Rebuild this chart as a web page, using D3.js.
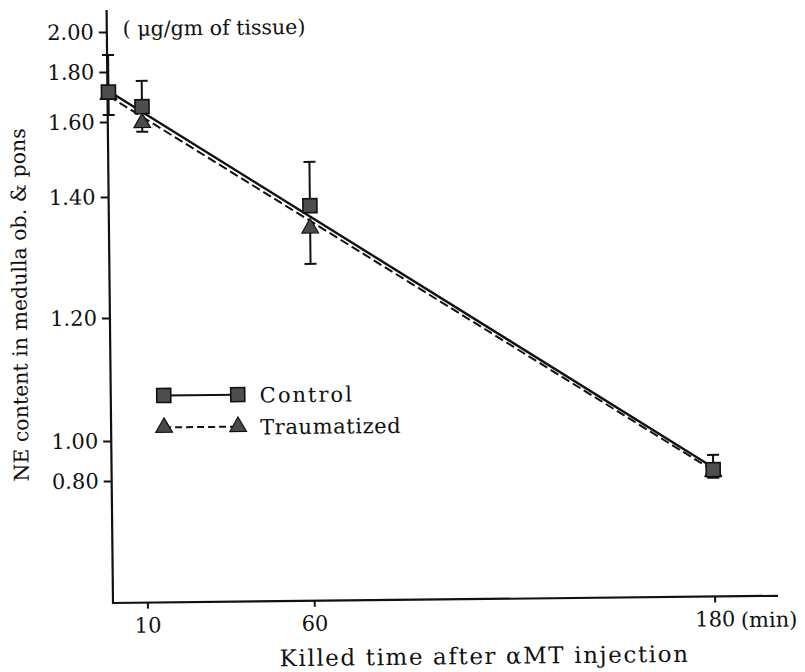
<!DOCTYPE html>
<html>
<head>
<meta charset="utf-8">
<script src="https://cdn.jsdelivr.net/npm/d3@7"></script>
<style>
  html, body { margin: 0; background: #fff; }
  svg text { font-family: "DejaVu Serif", serif; fill: #111; }
</style>
</head>
<body>
<svg id="chart" width="805" height="672"></svg>
<script>
// NE content in medulla ob. & pons after aMT injection — redrawn with D3 v7

// ── Data ────────────────────────────────────────────────────────────────
const times      = [0, 10, 60, 180];
const controlNE  = [1.72, 1.66, 1.382, 0.824];
const controlHi  = [1.885, 1.763, 1.488, 0.898];   // upper error bar
const traumaNE   = [1.71, 1.597, 1.345, 0.815];
const traumaLo   = [1.628, 1.573, 1.286, 0.7835];  // lower error bar
// fitted lines: value at t=0 and t=180
const fitTimes   = [0, 180];
const controlFit = [1.724, 0.835];
const traumaFit  = [1.704, 0.82];
const yTicks     = [0.80, 1.00, 1.20, 1.40, 1.60, 1.80, 2.00];
const xTicks     = [10, 60, 180];

// ── Layout ──────────────────────────────────────────────────────────────
// the printed axis is unevenly ruled, so the y scale is piecewise
const yTickPos = [481, 441, 318, 197, 122, 72, 32];
const X0 = 113, Y0 = 603;           // axis corner
const X1 = 778, YTOP = 10;          // axis ends
const TILT = -0.62;                 // the scan is slightly rotated

const svg = d3.select('#chart');
const g = svg.append('g').attr('transform', `rotate(${TILT},${X0},${Y0})`);

const x = d3.scaleLinear().domain([0, 199]).range([114, X1]);
const y = d3.scaleLinear().domain(yTicks).range(yTickPos);

// ── Axes ────────────────────────────────────────────────────────────────
g.append('line')
  .attr('x1', X0).attr('x2', X0).attr('y1', Y0 + 1).attr('y2', YTOP)
  .attr('stroke', '#111').attr('stroke-width', 2.2);
g.append('line')
  .attr('x1', X0 - 1).attr('x2', X1).attr('y1', Y0).attr('y2', Y0)
  .attr('stroke', '#111').attr('stroke-width', 2.2);

const yAxis = g.append('g')
  .attr('transform', `translate(${X0},0)`)
  .call(d3.axisLeft(y).tickValues(yTicks).tickFormat(d3.format('.2f'))
    .tickSize(8).tickPadding(5));
yAxis.select('.domain').remove();
yAxis.selectAll('line').attr('stroke', '#111').attr('stroke-width', 2);
yAxis.selectAll('text').attr('font-size', 21).attr('font-family', null);

const xAxis = g.append('g')
  .attr('transform', `translate(0,${Y0})`)
  .call(d3.axisBottom(x).tickValues(xTicks).tickFormat(d3.format('d'))
    .tickSize(6).tickPadding(9));
xAxis.select('.domain').remove();
xAxis.selectAll('line').attr('stroke', '#111').attr('stroke-width', 2);
xAxis.selectAll('text').attr('font-size', 21).attr('font-family', null);

g.append('text')
  .attr('x', x(180) + 26).attr('y', Y0 + 31)
  .attr('font-size', 21)
  .text('(min)');

g.append('text')
  .attr('x', 484).attr('y', 668)
  .attr('text-anchor', 'middle')
  .attr('font-size', 23)
  .attr('letter-spacing', 1.6)
  .text('Killed time after αMT injection');

g.append('text')
  .attr('transform', 'translate(30,304) rotate(-90)')
  .attr('text-anchor', 'middle')
  .attr('font-size', 20.5)
  .text('NE content in medulla ob. & pons');

g.append('text')
  .attr('x', 129).attr('y', 36)
  .attr('font-size', 20.5)
  .text('( μg/gm of tissue)');

// ── Fitted lines ────────────────────────────────────────────────────────
const line = d3.line().x(d => x(d[0])).y(d => y(d[1]));

g.append('path')
  .attr('d', line(d3.zip(fitTimes, traumaFit)))
  .attr('fill', 'none').attr('stroke', '#111').attr('stroke-width', 2)
  .attr('stroke-dasharray', '9,4');
g.append('path')
  .attr('d', line(d3.zip(fitTimes, controlFit)))
  .attr('fill', 'none').attr('stroke', '#111').attr('stroke-width', 2.4);

// ── Error bars ──────────────────────────────────────────────────────────
const CAP = 6;
function errorBars(means, ends) {
  const eb = g.append('g').selectAll('g')
    .data(d3.zip(times, means, ends)).join('g')
    .attr('stroke', '#111').attr('stroke-width', 2);
  eb.append('line')
    .attr('x1', d => x(d[0])).attr('x2', d => x(d[0]))
    .attr('y1', d => y(d[1])).attr('y2', d => y(d[2]));
  eb.append('line')
    .attr('x1', d => x(d[0]) - CAP).attr('x2', d => x(d[0]) + CAP)
    .attr('y1', d => y(d[2])).attr('y2', d => y(d[2]));
}
errorBars(controlNE, controlHi);
errorBars(traumaNE, traumaLo);

// ── Markers ─────────────────────────────────────────────────────────────
const tri = d3.symbol(d3.symbolTriangle, 120);
const SQ = 14;

function triangles(sel, pts) {
  sel.selectAll('path.tri')
    .data(pts).join('path')
    .attr('class', 'tri')
    .attr('d', tri)
    .attr('transform', d => `translate(${d[0]},${d[1]})`)
    .attr('fill', '#4a4a4a').attr('stroke', '#111').attr('stroke-width', 1.2);
}
function squares(sel, pts) {
  sel.selectAll('rect.sq')
    .data(pts).join('rect')
    .attr('class', 'sq')
    .attr('x', d => d[0] - SQ / 2).attr('y', d => d[1] - SQ / 2)
    .attr('width', SQ).attr('height', SQ)
    .attr('fill', '#4e4e4e').attr('stroke', '#111').attr('stroke-width', 1.6);
}

triangles(g.append('g'), times.map((t, i) => [x(t), y(traumaNE[i])]));
squares(g.append('g'), times.map((t, i) => [x(t), y(controlNE[i])]));

// ── Legend ──────────────────────────────────────────────────────────────
const legend = [
  { label: 'Control',     y: 396, dash: null,  mark: squares,   ls: 2 },
  { label: 'Traumatized', y: 428, dash: '7,4', mark: triangles, ls: 0.6 },
];
const LX0 = 166, LX1 = 240;
legend.forEach(l => {
  g.append('line')
    .attr('x1', LX0).attr('x2', LX1).attr('y1', l.y).attr('y2', l.y)
    .attr('stroke', '#111').attr('stroke-width', 2)
    .attr('stroke-dasharray', l.dash);
  l.mark(g.append('g'), [[LX0, l.y], [LX1, l.y]]);
  g.append('text')
    .attr('x', 262).attr('y', l.y + 8)
    .attr('font-size', 21)
    .attr('letter-spacing', l.ls)
    .text(l.label);
});
</script>
</body>
</html>
